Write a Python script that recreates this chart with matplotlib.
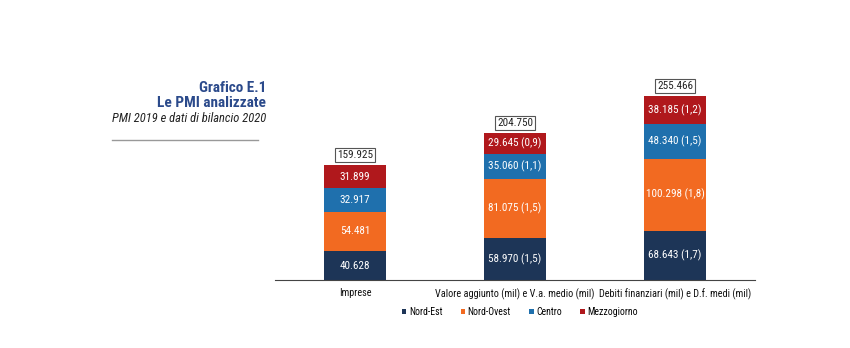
import matplotlib.pyplot as plt
from matplotlib import font_manager

categories = ["Imprese",
              "Valore aggiunto (mil) e V.a. medio (mil)",
              "Debiti finanziari (mil) e D.f. medi (mil)"]
regions = ["Nord-Est", "Nord-Ovest", "Centro", "Mezzogiorno"]

nord_est = [40.628, 58.970, 68.643]
nord_ovest = [54.481, 81.075, 100.298]
centro = [32.917, 35.060, 48.340]
mezzogiorno = [31.899, 29.645, 38.185]
totals = [159.925, 204.750, 255.466]

# medie tra parentesi (nessuna per Imprese)
nord_est_avg = [None, "1,5", "1,7"]
nord_ovest_avg = [None, "1,5", "1,8"]
centro_avg = [None, "1,1", "1,5"]
mezzogiorno_avg = [None, "0,9", "1,2"]

colors = ["#1d3557", "#f26a21", "#1f70ad", "#b0181c"]


def pick_font():
    names = {f.name for f in font_manager.fontManager.ttflist}
    for n in ["Roboto Condensed", "Liberation Sans Narrow", "Open Sans Condensed"]:
        if n in names:
            return n
    return "DejaVu Sans"


def fmt(v):
    return f"{v:.3f}"


def main():
    font = pick_font()
    plt.rcParams['font.family'] = [font, 'DejaVu Sans']

    fig = plt.figure(figsize=(8.5, 3.48), dpi=100)
    ax = fig.add_axes([0.3235, 0.195, 0.565, 0.575])

    series = [nord_est, nord_ovest, centro, mezzogiorno]
    avgs = [nord_est_avg, nord_ovest_avg, centro_avg, mezzogiorno_avg]
    x = list(range(len(categories)))
    bottom = [0.0] * len(categories)
    for vals, av, col, name in zip(series, avgs, colors, regions):
        ax.bar(x, vals, 0.39, bottom=bottom, color=col, label=name)
        for i, v in enumerate(vals):
            txt = fmt(v) if av[i] is None else f"{fmt(v)} ({av[i]})"
            ax.text(i, bottom[i] + v / 2, txt, ha="center", va="center",
                    color="white", fontsize=8)
        bottom = [b + v for b, v in zip(bottom, vals)]

    for i, t in enumerate(totals):
        ax.text(i, t + 7, fmt(t), ha="center", va="bottom", fontsize=8,
                color="#222222",
                bbox=dict(boxstyle="square,pad=0.2", fc="white",
                          ec="#555555", lw=0.8))

    ax.set_xlim(-0.5, 2.5)
    ax.set_ylim(0, 278)
    ax.set_yticks([])
    ax.set_xticks(x)
    ax.set_xticklabels(categories, fontsize=7.4, color="#111111")
    ax.tick_params(axis="x", length=0, pad=6)
    for s in ["top", "left", "right"]:
        ax.spines[s].set_visible(False)
    ax.spines["bottom"].set_color("#444444")
    ax.spines["bottom"].set_linewidth(0.8)

    ax.legend(loc="center", bbox_to_anchor=(0.51, -0.16), ncol=4,
              frameon=False, fontsize=7, handlelength=0.45,
              handleheight=0.45, handletextpad=0.25, columnspacing=1.9)

    fig.text(0.313, 0.747, "Grafico E.1", ha="right", va="center",
             fontsize=11, fontweight="bold", color="#2b4a8b")
    fig.text(0.313, 0.705, "Le PMI analizzate", ha="right", va="center",
             fontsize=11, fontweight="bold", color="#2b4a8b")
    fig.text(0.313, 0.66, "PMI 2019 e dati di bilancio 2020", ha="right",
             va="center", fontsize=9, fontstyle="italic", color="#222222")
    fig.add_artist(plt.Line2D([0.132, 0.303], [0.597, 0.597],
                              color="#999999", lw=1))

    fig.savefig("out.png", dpi=100)


if __name__ == "__main__":
    main()
